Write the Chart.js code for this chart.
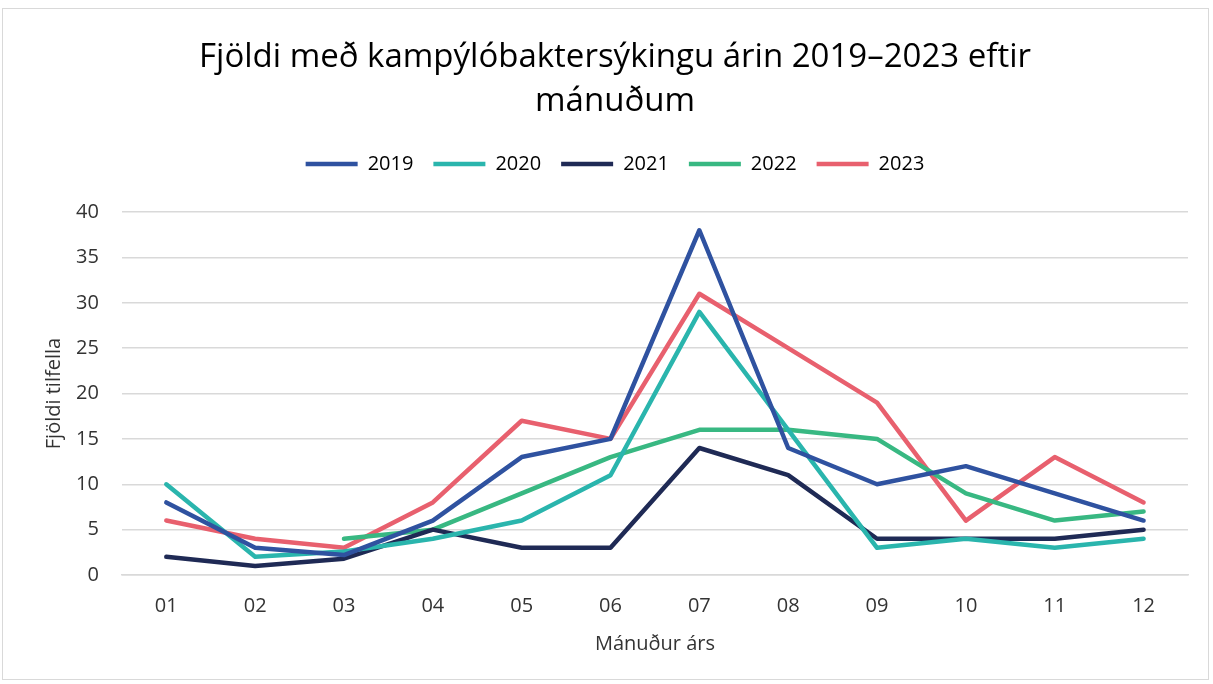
<!DOCTYPE html>
<html>
<head>
<meta charset="utf-8">
<script src="https://cdn.jsdelivr.net/npm/chart.js@4"></script>
<style>
    html, body { margin: 0; padding: 0; background: #fff; }
    #wrap {
        position: absolute; left: 2px; top: 8px;
        width: 1207px; height: 672px;
        border: 1.5px solid #d9d9d9; box-sizing: border-box;
    }
    canvas { display: block; }
</style>
</head>
<body>
<div id="wrap"><canvas id="chart"></canvas></div>
<script>
// Gögn lesin af myndinni
const months = ['01', '02', '03', '04', '05', '06', '07', '08', '09', '10', '11', '12']
const y2019 = [8, 3, 2.2, 6, 13, 15, 38, 14, 10, 12, 9, 6]
const y2020 = [10, 2, 2.6, 4, 6, 11, 29, 16, 3, 4, 3, 4]
const y2021 = [2, 1, 1.8, 5, 3, 3, 14, 11, 4, 4, 4, 5]
const y2022 = [null, null, 4, 5, 9, 13, 16, 16, 15, 9, 6, 7]
const y2023 = [6, 4, 3, 8, 17, 15, 31, 25, 19, 6, 13, 8]

const FONT = '"Open Sans", sans-serif'
const TXT = '#333'

function line(label, data, color) {
    return {
        label, data,
        borderColor: color,
        backgroundColor: color,
        borderWidth: 4.5,
        borderCapStyle: 'round',
        borderJoinStyle: 'round',
        pointRadius: 0,
        tension: 0,
        spanGaps: false,
    }
}

// meira bil milli skýringa og grafs
const legendSpace = {
    id: 'legendSpace',
    beforeInit(chart) {
        const fit = chart.legend.fit
        chart.legend.fit = function () {
            fit.call(this)
            this.height = 78
        }
    }
}

new Chart(document.getElementById('chart'), {
    type: 'line',
    data: {
        labels: months,
        datasets: [
            line('2019', y2019, '#2f52a0'),
            line('2020', y2020, '#2ab5ad'),
            line('2021', y2021, '#1f2a55'),
            line('2022', y2022, '#38b882'),
            line('2023', y2023, '#e8606e'),
        ]
    },
    plugins: [legendSpace],
    options: {
        responsive: true,
        maintainAspectRatio: false,
        animation: false,
        layout: { padding: { left: 39, right: 20, top: 26, bottom: 23 } },
        plugins: {
            title: {
                display: true,
                text: ['Fjöldi með kampýlóbaktersýkingu árin 2019–2023 eftir', 'mánuðum'],
                color: '#000',
                font: { family: FONT, size: 33, weight: 'normal', lineHeight: 1.35 },
                padding: { top: 0, bottom: 10 },
            },
            legend: {
                position: 'top',
                labels: {
                    color: '#000',
                    font: { family: FONT, size: 20 },
                    usePointStyle: true,
                    pointStyle: 'line',
                    pointStyleWidth: 52,
                    padding: 20,
                },
            },
            tooltip: { enabled: false },
        },
        scales: {
            x: {
                offset: true,
                grid: { display: false },
                border: { color: '#d9d9d9', width: 1.5 },
                ticks: { color: TXT, font: { family: FONT, size: 20 }, padding: 11 },
                title: {
                    display: true, text: 'Mánuður árs', color: TXT,
                    font: { family: FONT, size: 20 }, padding: { top: 3, bottom: 0 },
                },
            },
            y: {
                min: 0, max: 40,
                grid: { color: '#d9d9d9', lineWidth: 1.5, drawTicks: false },
                border: { display: false },
                ticks: { stepSize: 5, color: TXT, font: { family: FONT, size: 20 }, padding: 23 },
                title: {
                    display: true, text: 'Fjöldi tilfella', color: TXT,
                    font: { family: FONT, size: 20 }, padding: { top: 0, bottom: -13 },
                },
            },
        },
    },
})
</script>
</body>
</html>
